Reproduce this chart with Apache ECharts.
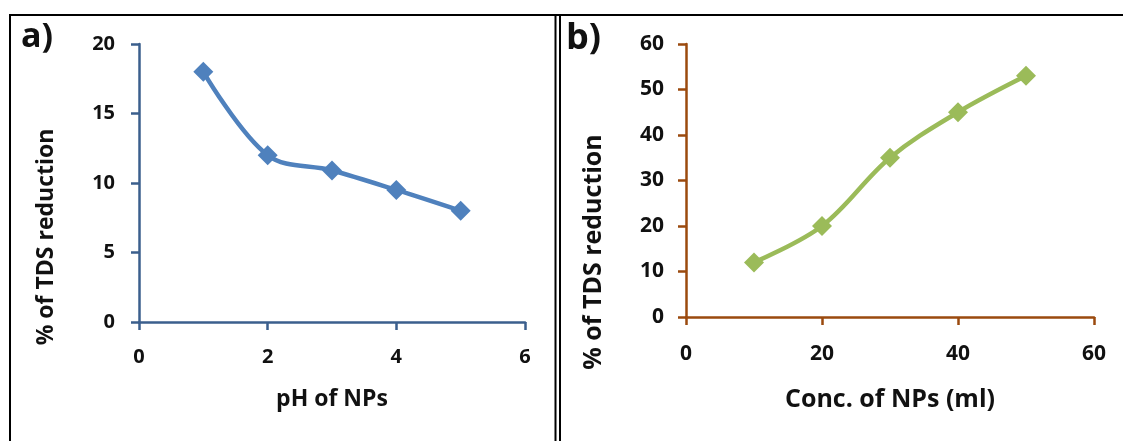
<!DOCTYPE html>
<html>
<head>
<meta charset="utf-8">
<script src="https://cdn.jsdelivr.net/npm/echarts@6/dist/echarts.min.js"></script>
<style>
  html, body { margin: 0; padding: 0; background: #fff; }
  #chart { width: 1123px; height: 441px; }
</style>
</head>
<body>
<div id="chart"></div>
<script>
// Panel a: effect of pH of the nanoparticles
const phValues = [1, 2, 3, 4, 5];
const phReduction = [18, 12, 10.9, 9.5, 8];

// Panel b: effect of nanoparticle concentration
const concValues = [10, 20, 30, 40, 50];
const concReduction = [12, 20, 35, 45, 53];

const yTitle = '% of TDS reduction';
const xTitleA = 'pH of NPs';
const xTitleB = 'Conc. of NPs (ml)';

const FONT = '"Open Sans", "Liberation Sans", sans-serif';

function axisStyle(color) {
  return {
    axisLine: { show: true, lineStyle: { color: color, width: 2.5 } },
    axisTick: { show: true, inside: false, length: 8, lineStyle: { color: color, width: 2.5 } },
    splitLine: { show: false }
  };
}

const chart = echarts.init(document.getElementById('chart'), null, { renderer: 'canvas' });

chart.setOption({
  backgroundColor: '#ffffff',
  animation: false,
  grid: [
    { left: 139, top: 44, width: 386, height: 278 },
    { left: 686, top: 44, width: 408, height: 273 }
  ],
  xAxis: [
    Object.assign({
      type: 'value', gridIndex: 0, min: 0, max: 6, interval: 2,
      name: xTitleA, nameLocation: 'middle', nameGap: 66,
      nameTextStyle: { fontFamily: FONT, fontWeight: 'bold', fontSize: 23, color: '#111' },
      axisLabel: { margin: 25, fontFamily: FONT, fontWeight: 'bold', fontSize: 20, color: '#111' }
    }, axisStyle('#3b5f8d')),
    Object.assign({
      type: 'value', gridIndex: 1, min: 0, max: 60, interval: 20,
      name: xTitleB, nameLocation: 'middle', nameGap: 70,
      nameTextStyle: { fontFamily: FONT, fontWeight: 'bold', fontSize: 25, color: '#111' },
      axisLabel: { margin: 27, fontFamily: FONT, fontWeight: 'bold', fontSize: 21, color: '#111' }
    }, axisStyle('#9b4a0e'))
  ],
  yAxis: [
    Object.assign({
      type: 'value', gridIndex: 0, min: 0, max: 20, interval: 5,
      axisLabel: { margin: 24, fontFamily: FONT, fontWeight: 'bold', fontSize: 20, color: '#111' }
    }, axisStyle('#3b5f8d')),
    Object.assign({
      type: 'value', gridIndex: 1, min: 0, max: 60, interval: 10,
      axisLabel: { margin: 22, fontFamily: FONT, fontWeight: 'bold', fontSize: 21, color: '#111' }
    }, axisStyle('#9b4a0e'))
  ],
  series: [
    {
      type: 'line', xAxisIndex: 0, yAxisIndex: 0,
      data: phValues.map((x, i) => [x, phReduction[i]]),
      smooth: 0.35,
      symbol: 'diamond', symbolSize: 20,
      lineStyle: { color: '#4f81bd', width: 4.5 },
      itemStyle: { color: '#4f81bd' }
    },
    {
      type: 'line', xAxisIndex: 1, yAxisIndex: 1,
      data: concValues.map((x, i) => [x, concReduction[i]]),
      smooth: 0.35,
      symbol: 'diamond', symbolSize: 20,
      lineStyle: { color: '#9bbb59', width: 4.5 },
      itemStyle: { color: '#9bbb59' }
    }
  ],
  graphic: [
    // frame around the two panels
    { type: 'line', shape: { x1: 9, y1: 15, x2: 1123, y2: 15 }, style: { stroke: '#000', lineWidth: 2 } },
    { type: 'line', shape: { x1: 10, y1: 15, x2: 10, y2: 441 }, style: { stroke: '#000', lineWidth: 2 } },
    { type: 'line', shape: { x1: 555.5, y1: 15, x2: 555.5, y2: 441 }, style: { stroke: '#000', lineWidth: 2 } },
    { type: 'line', shape: { x1: 560, y1: 15, x2: 560, y2: 441 }, style: { stroke: '#000', lineWidth: 2 } },
    // panel letters
    { type: 'text', left: 21, top: 20, style: { text: 'a)', font: 'bold 34px ' + FONT, fill: '#111' } },
    { type: 'text', left: 566, top: 21, style: { text: 'b)', font: 'bold 36px ' + FONT, fill: '#111' } },
    // vertical axis titles, set lower than the plot middle
    { type: 'text', x: 46, y: 237, rotation: Math.PI / 2,
      style: { text: yTitle, font: 'bold 23px ' + FONT, fill: '#111', align: 'center', verticalAlign: 'middle' } },
    { type: 'text', x: 594, y: 252, rotation: Math.PI / 2,
      style: { text: yTitle, font: 'bold 25px ' + FONT, fill: '#111', align: 'center', verticalAlign: 'middle' } }
  ]
});
</script>
</body>
</html>
